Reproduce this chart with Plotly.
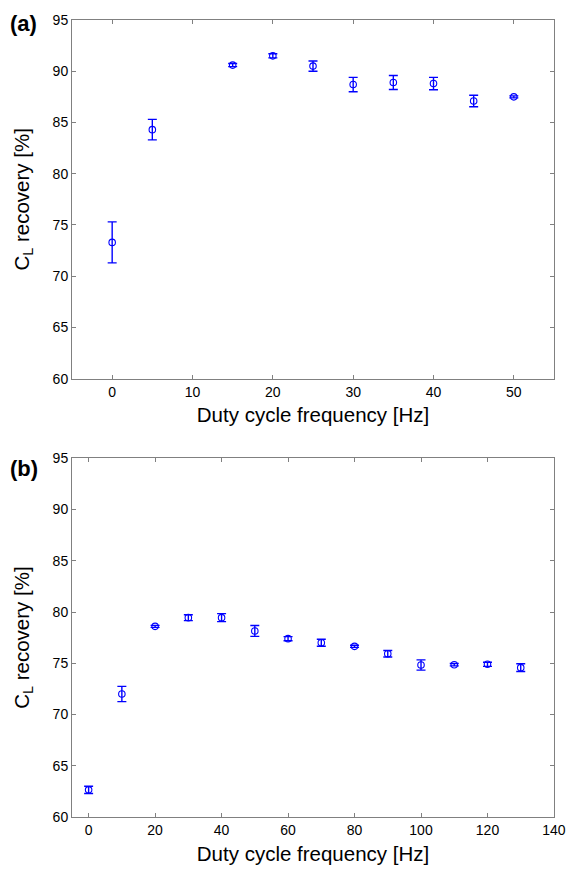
import plotly.graph_objects as go
from plotly.subplots import make_subplots

# Panel (a)
freq_a = [0, 5, 15, 20, 25, 30, 35, 40, 45, 50]
rec_a = [73.3, 84.3, 90.6, 91.5, 90.5, 88.7, 88.9, 88.8, 87.1, 87.5]
err_a = [2.0, 1.0, 0.15, 0.2, 0.5, 0.7, 0.68, 0.6, 0.56, 0.1]

# Panel (b)
freq_b = [0, 10, 20, 30, 40, 50, 60, 70, 80, 90, 100, 110, 120, 130]
rec_b = [62.65, 72.0, 78.6, 79.45, 79.45, 78.15, 77.4, 77.0, 76.65, 75.93, 74.83, 74.86, 74.9, 74.57]
err_b = [0.35, 0.74, 0.1, 0.29, 0.39, 0.53, 0.2, 0.34, 0.1, 0.32, 0.5, 0.12, 0.2, 0.38]

yticks = [60, 65, 70, 75, 80, 85, 90, 95]
xticks_a = [0, 10, 20, 30, 40, 50]
xticks_b = [0, 20, 40, 60, 80, 100, 120, 140]

BLUE = "#0000FF"
FONT = "Liberation Sans, Arial, sans-serif"

fig = make_subplots(rows=2, cols=1, vertical_spacing=0.1)

for row, (fx, ry, ey) in enumerate([(freq_a, rec_a, err_a), (freq_b, rec_b, err_b)], start=1):
    fig.add_trace(go.Scatter(
        x=fx, y=ry, mode="markers",
        marker=dict(symbol="circle-open", size=6.5, color=BLUE, line=dict(width=1.1, color=BLUE)),
        error_y=dict(type="data", array=ey, visible=True, color=BLUE, thickness=1.4, width=4.5),
        showlegend=False,
    ), row=row, col=1)

axis_common = dict(
    showline=True, linecolor="#808080", linewidth=1, mirror="ticks",
    ticks="inside", ticklen=4, tickcolor="#808080", tickwidth=1,
    showgrid=False, zeroline=False,
    tickfont=dict(family=FONT, size=14, color="black"),
)

fig.update_xaxes(axis_common)
fig.update_yaxes(axis_common)
fig.update_xaxes(automargin="height")

TITLE_FONT = dict(family=FONT, size=20.5, color="black")
fig.update_xaxes(range=[-5, 55], tickvals=xticks_a, row=1, col=1,
                 title=dict(text="Duty cycle frequency [Hz]", font=TITLE_FONT, standoff=9))
fig.update_xaxes(range=[-5, 140.01], tickvals=xticks_b, row=2, col=1,
                 title=dict(text="Duty cycle frequency [Hz]", font=TITLE_FONT, standoff=9))
for r in (1, 2):
    fig.update_yaxes(range=[60, 95], tickvals=yticks, row=r, col=1,
                     title=dict(text="C<sub>L</sub> recovery [%]", font=TITLE_FONT, standoff=17))

fig.update_layout(
    yaxis=dict(domain=[0.5499, 1.0]),
    yaxis2=dict(domain=[0.0, 0.4501]),
    width=568, height=873,
    margin=dict(l=72, r=14, t=16, b=55),
    plot_bgcolor="white", paper_bgcolor="white",
    font=dict(family=FONT, color="black"),
)

fig.add_annotation(text="<b>(a)</b>", xref="paper", yref="paper", x=-0.133, y=0.995,
                   xanchor="left", yanchor="middle", showarrow=False,
                   font=dict(family=FONT, size=22, color="black"))
fig.add_annotation(text="<b>(b)</b>", xref="paper", yref="paper", x=-0.133, y=0.437,
                   xanchor="left", yanchor="middle", showarrow=False,
                   font=dict(family=FONT, size=22, color="black"))

fig.write_html("out.html", config={"displayModeBar": False},
               post_script="document.body.style.margin='0';document.body.style.overflow='hidden';")
